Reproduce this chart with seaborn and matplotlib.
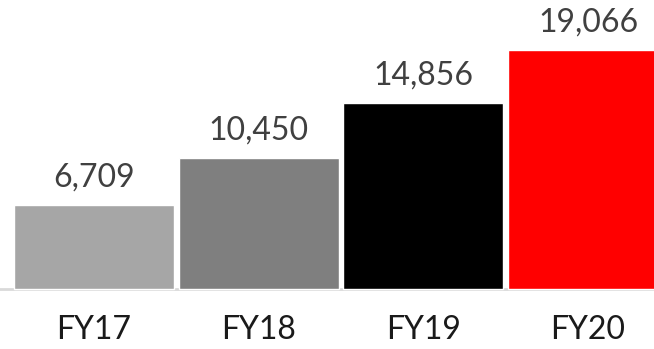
import matplotlib
matplotlib.use("Agg")
import matplotlib.pyplot as plt
import seaborn as sns
import pandas as pd

years = ["FY17", "FY18", "FY19", "FY20"]
values = [6709, 10450, 14856, 19066]
colors = ["#a6a6a6", "#7f7f7f", "#000000", "#ff0000"]

sns.set_theme(style="white")
plt.rcParams["font.family"] = ["Lato", "DejaVu Sans"]

df = pd.DataFrame({"year": years, "value": values})

fig = plt.figure(figsize=(6.54, 3.49), dpi=100)
ax = fig.add_axes([0, 0, 1, 1])
sns.barplot(data=df, x="year", y="value", hue="year", palette=colors,
            width=0.972, saturation=1, legend=False, ax=ax)

ax.set_xlim(-0.571, 3.401)
ax.set_ylim(-4785, 23046)
ax.axis("off")

# baseline under the bars
ax.plot([-0.583, 3.401], [0, 0], color="#d9d9d9", lw=2, solid_capstyle="butt", zorder=0)

for i, (yr, v) in enumerate(zip(years, values)):
    ax.text(i, v + 2150, f"{v:,}", ha="center", va="center",
            fontsize=23, color="#404040")
    ax.text(i, -3300, yr, ha="center", va="center", fontsize=23, color="#1a1a1a")

fig.savefig("out.png", dpi=100)
